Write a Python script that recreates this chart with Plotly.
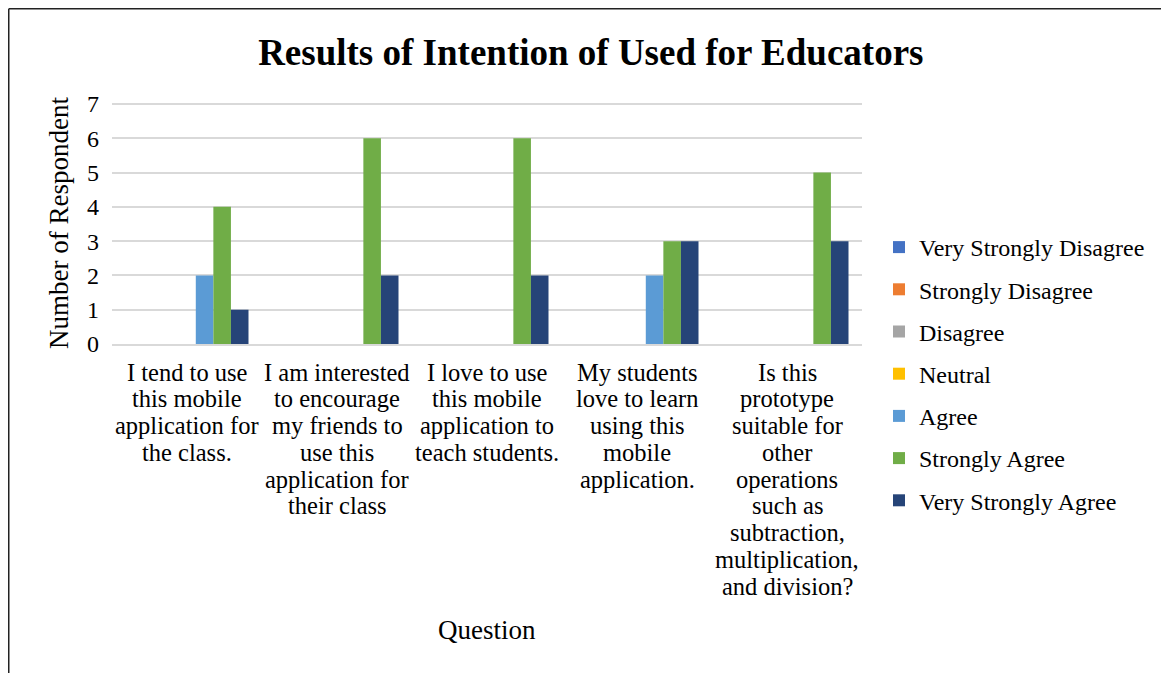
import plotly.graph_objects as go

categories = [
    "I tend to use this mobile application for the class.",
    "I am interested to encourage my friends to use this application for their class",
    "I love to use this mobile application to teach students.",
    "My students love to learn using this mobile application.",
    "Is this prototype suitable for other operations such as subtraction, multiplication, and division?",
]
category_lines = [
    ["I tend to use", "this mobile", "application for", "the class."],
    ["I am interested", "to encourage", "my friends to", "use this", "application for", "their class"],
    ["I love to use", "this mobile", "application to", "teach students."],
    ["My students", "love to learn", "using this", "mobile", "application."],
    ["Is this", "prototype", "suitable for", "other", "operations", "such as",
     "subtraction,", "multiplication,", "and division?"],
]
series_names = ["Very Strongly Disagree", "Strongly Disagree", "Disagree", "Neutral",
                "Agree", "Strongly Agree", "Very Strongly Agree"]
very_strongly_disagree = [0, 0, 0, 0, 0]
strongly_disagree = [0, 0, 0, 0, 0]
disagree = [0, 0, 0, 0, 0]
neutral = [0, 0, 0, 0, 0]
agree = [2, 0, 0, 2, 0]
strongly_agree = [4, 6, 6, 3, 5]
very_strongly_agree = [1, 2, 2, 3, 3]
series_values = [very_strongly_disagree, strongly_disagree, disagree, neutral,
                 agree, strongly_agree, very_strongly_agree]
y_ticks = [0, 1, 2, 3, 4, 5, 6, 7]
colors = ["#4472C4", "#ED7D31", "#A5A5A5", "#FFC000", "#5B9BD5", "#70AD47", "#264478"]

FONT = "Liberation Serif"
# page body has an 8px margin, so the figure is drawn 8px in from the window edge
W, H = 1161, 665
L, R, T, B = 104, 307, 94, 329
PX_PER_UNIT = 240 / 7  # 0..7 spans 240px
Y_TOP = (H - B - T) / PX_PER_UNIT  # slightly above 7 so the top gridline is kept

fig = go.Figure()
for i, (name, vals, c) in enumerate(zip(series_names, series_values, colors)):
    fig.add_trace(go.Bar(x=categories, y=vals, name=name, marker_color=c,
                         marker_line_width=0, legendgroup=f"g{i}"))

pw = W - L - R
ph = H - T - B
def px_x(x):
    return (x - L) / pw
def px_y(y):
    return (H - B - y) / ph

# category labels, one line per annotation (tight line spacing as in the source)
first_line_y = 364
line_step = 26.75
for cat, lines in zip(categories, category_lines):
    for k, line in enumerate(lines):
        fig.add_annotation(x=cat, xref="x", y=px_y(first_line_y + k * line_step), yref="paper",
                           text=line, showarrow=False, xanchor="center", yanchor="middle",
                           font=dict(family=FONT, size=24.5, color="black"))

fig.add_annotation(x=0.5, xref="paper", y=px_y(622), yref="paper", text="Question",
                   showarrow=False, xanchor="center", yanchor="middle",
                   font=dict(family=FONT, size=27, color="black"))

fig.update_layout(
    width=W, height=H,
    margin=dict(l=L, r=R, t=T, b=B, autoexpand=False),
    paper_bgcolor="white", plot_bgcolor="white",
    font=dict(family=FONT, color="black", size=24),
    title=dict(text="<b>Results of Intention of Used for Educators</b>",
               x=0.502, xanchor="center", y=1 - 44 / H, yanchor="middle",
               font=dict(family=FONT, size=37, color="black")),
    barmode="group", bargap=0.18, bargroupgap=0,
    legend=dict(x=px_x(871), xanchor="left", y=px_y(217), yanchor="top",
                font=dict(family=FONT, size=24, color="black"),
                tracegroupgap=8, itemwidth=30, bgcolor="rgba(0,0,0,0)", maxheight=600),
    showlegend=True,
)
fig.update_yaxes(range=[0, Y_TOP], tickvals=y_ticks, showgrid=True, gridcolor="#d9d9d9", gridwidth=1.5,
                 zeroline=False, showline=False, ticks="", ticklabelstandoff=12,
                 tickfont=dict(family=FONT, size=24, color="black"),
                 title=dict(text="Number of Respondent", standoff=10,
                            font=dict(family=FONT, size=27, color="black")))
fig.update_xaxes(showline=True, linecolor="#d9d9d9", linewidth=1.5, ticks="",
                 showticklabels=False)

# outer frame (left and top edges visible)
fig.add_shape(type="line", xref="paper", yref="paper",
              x0=px_x(0.75), x1=px_x(0.75), y0=px_y(0.75), y1=px_y(H + 5),
              line=dict(color="#222222", width=1.5))
fig.add_shape(type="line", xref="paper", yref="paper",
              x0=px_x(0.75), x1=px_x(W + 5), y0=px_y(0.75), y1=px_y(0.75),
              line=dict(color="#222222", width=1.5))

fig.write_html("out.html")
